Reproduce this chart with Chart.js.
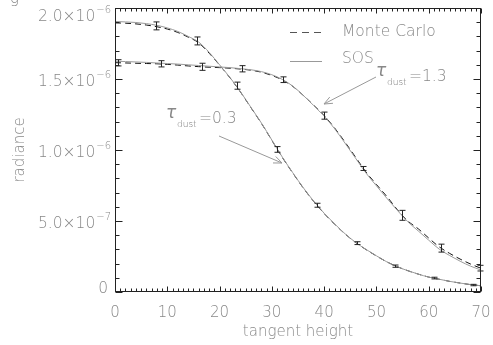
<!DOCTYPE html>
<html>
<head>
<meta charset="utf-8">
<script src="https://cdn.jsdelivr.net/npm/chart.js@4"></script>
<style>
html,body{margin:0;padding:0;background:#fff;}
#wrap{width:493px;height:345px;}
</style>
</head>
<body>
<div id="wrap"><canvas id="c" width="493" height="345"></canvas></div>
<script>
// tangent height grid for the smooth curves
const tangentHeight = [0,2,4,6,8,10,12,14,16,18,20,22,24,26,28,30,32,34,36,38,40,42,44,46,48,50,52,54,56,58,60,62,64,66,68,70];
// radiance in units of 1e-6
const sosThin  = [1.905,1.902,1.898,1.890,1.878,1.860,1.835,1.800,1.760,1.688,1.600,1.510,1.410,1.300,1.190,1.070,0.950,0.840,0.735,0.640,0.555,0.480,0.410,0.350,0.300,0.255,0.212,0.178,0.150,0.126,0.105,0.090,0.075,0.063,0.052,0.044];
const mcThin   = [1.895,1.893,1.888,1.880,1.868,1.852,1.828,1.795,1.755,1.682,1.598,1.508,1.408,1.298,1.188,1.068,0.948,0.838,0.733,0.638,0.553,0.478,0.409,0.349,0.299,0.254,0.212,0.178,0.150,0.126,0.105,0.090,0.075,0.063,0.052,0.044];
const sosThick = [1.625,1.623,1.620,1.617,1.613,1.609,1.605,1.600,1.595,1.590,1.585,1.580,1.573,1.565,1.552,1.530,1.497,1.450,1.385,1.313,1.238,1.150,1.048,0.943,0.838,0.748,0.660,0.575,0.495,0.430,0.365,0.302,0.257,0.217,0.182,0.155];
const mcThick  = [1.615,1.613,1.611,1.609,1.607,1.603,1.598,1.592,1.587,1.583,1.580,1.576,1.570,1.562,1.548,1.525,1.494,1.448,1.385,1.315,1.242,1.155,1.055,0.950,0.845,0.757,0.672,0.580,0.500,0.445,0.380,0.318,0.272,0.232,0.197,0.167];
// Monte Carlo points with error bars
const mcThinErrX  = [7.8,15.7,23.3,31.0,38.6,46.3,53.6,61.0,68.4];
const mcThinErrY  = [1.874,1.768,1.453,1.004,0.611,0.344,0.182,0.098,0.049];
const mcThinErr   = [0.028,0.028,0.025,0.020,0.014,0.010,0.008,0.006,0.005];
const mcThickErrX = [0.6,8.8,16.6,24.3,32.1,40.0,47.4,54.9,62.3,69.8];
const mcThickErrY = [1.614,1.607,1.586,1.572,1.495,1.242,0.870,0.540,0.309,0.168];
const mcThickErr  = [0.022,0.022,0.025,0.022,0.020,0.025,0.014,0.035,0.028,0.020];
// axes
const xTickValues = [0,10,20,30,40,50,60,70];
const xTickLabels = ['0','10','20','30','40','50','60','70'];
const yTickValues = [0,0.5,1.0,1.5,2.0];
const yTickMantissa = ['0','5.0×10','1.0×10','1.5×10','2.0×10'];
const yTickExponent = ['','−7','−6','−6','−6'];
const xTitle = 'tangent height';
const yTitle = 'radiance';
const legendLabels = ['Monte Carlo','SOS'];
const annotLabels = [['τ','dust','=0.3'],['τ','dust','=1.3']];

const pts = (xs, ys) => xs.map((v,i)=>({x:v,y:ys[i]}));
const FONT = '"DejaVu Sans", "Liberation Sans", sans-serif';
const TXT = '#888';
const AX = '#222';

const deco = {
  id:'deco',
  afterDatasetsDraw(chart){
    const {ctx, scales:{x,y}} = chart;
    ctx.save();
    ctx.strokeStyle = '#222'; ctx.lineWidth = 1;
    const bars = [[mcThinErrX,mcThinErrY,mcThinErr],[mcThickErrX,mcThickErrY,mcThickErr]];
    bars.forEach(([xs,ys,es])=>{
      xs.forEach((xv,i)=>{
        const px = Math.round(x.getPixelForValue(xv))+0.5;
        const lo = y.getPixelForValue(ys[i]-es[i]);
        const hi = y.getPixelForValue(ys[i]+es[i]);
        ctx.beginPath();
        ctx.moveTo(px,lo); ctx.lineTo(px,hi);
        ctx.moveTo(px-3,lo); ctx.lineTo(px+3,lo);
        ctx.moveTo(px-3,hi); ctx.lineTo(px+3,hi);
        ctx.stroke();
      });
    });
    ctx.restore();
  },
  afterDraw(chart){
    const {ctx, chartArea:a, scales:{x,y}} = chart;
    ctx.save();
    // frame
    ctx.strokeStyle = AX; ctx.lineWidth = 1;
    const L = Math.round(a.left)+0.5, R = Math.round(a.right)-0.5, T = Math.round(a.top)+0.5, B = Math.round(a.bottom)-0.5;
    ctx.strokeRect(L, T, R-L, B-T);
    ctx.beginPath();
    // x ticks (minor every 1)
    for(let v=0; v<=70; v+=1){
      const px = Math.round(x.getPixelForValue(v))+0.5;
      const len = (v%10===0)?5:3;
      ctx.moveTo(px,B); ctx.lineTo(px,B-len);
      ctx.moveTo(px,T); ctx.lineTo(px,T+len);
    }
    // y ticks (minor every 0.1)
    for(let k=0;k<=20;k++){
      const v = k/10;
      const py = Math.round(y.getPixelForValue(v))+0.5;
      const len = (k%5===0)?7:4;
      ctx.moveTo(L,py); ctx.lineTo(L+len,py);
      ctx.moveTo(R,py); ctx.lineTo(R-len,py);
    }
    ctx.stroke();

    // tick labels
    ctx.fillStyle = TXT;
    ctx.font = '300 15px '+FONT;
    ctx.textAlign='center'; ctx.textBaseline='alphabetic';
    xTickValues.forEach((v,i)=>{
      ctx.fillText(xTickLabels[i], x.getPixelForValue(v), B+25);
    });
    yTickValues.forEach((v,i)=>{
      let py = y.getPixelForValue(v);
      if (py < 14) py = 14; // keep the top label inside the figure
      const exp = yTickExponent[i];
      ctx.font = '300 10px '+FONT;
      const ew = exp ? ctx.measureText(exp).width : 0;
      const right = a.left - 4;
      if(exp){
        ctx.textAlign='right';
        ctx.fillText(exp, right, py-1);
        ctx.font = '300 15.5px '+FONT;
        ctx.fillText(yTickMantissa[i], right-ew-1, py+6.5);
      } else {
        ctx.font = '300 15.5px '+FONT;
        ctx.textAlign='right';
        ctx.fillText(yTickMantissa[i], right-3, py+1);
      }
    });
    // axis titles
    ctx.font = '300 15px '+FONT;
    ctx.textAlign='center';
    ctx.fillText(xTitle, (a.left+a.right)/2, 336);
    ctx.save();
    ctx.translate(24, (a.top+a.bottom)/2);
    ctx.rotate(-Math.PI/2);
    ctx.fillText(yTitle, 0, 0);
    ctx.restore();
    // clipped title glyph at top-left
    ctx.textAlign='left';
    ctx.fillText('g', 10, 3);

    // legend
    ctx.lineWidth = 1;
    ctx.strokeStyle = '#555';
    ctx.setLineDash([7,5]);
    ctx.beginPath(); ctx.moveTo(290,32.5); ctx.lineTo(322,32.5); ctx.stroke();
    ctx.setLineDash([]);
    ctx.strokeStyle = '#999';
    ctx.beginPath(); ctx.moveTo(290,61.5); ctx.lineTo(322,61.5); ctx.stroke();
    ctx.fillStyle = TXT;
    ctx.font = '300 15.5px '+FONT;
    ctx.textAlign='left';
    ctx.fillText(legendLabels[0], 342, 36);
    ctx.fillText(legendLabels[1], 342, 63);

    // annotations
    const drawLabel = (lab, tx, ty)=>{
      ctx.fillStyle = TXT; ctx.textAlign='left';
      ctx.font = 'italic 300 17px '+FONT;
      ctx.fillText(lab[0], tx, ty);
      ctx.fillStyle = '#777';
      ctx.font = '300 9px '+FONT;
      ctx.fillText(lab[1], tx+11, ty+9);
      ctx.fillStyle = TXT;
      ctx.font = '300 15.5px '+FONT;
      ctx.fillText(lab[2], tx+33, ty+5);
    };
    drawLabel(annotLabels[0], 166, 118);
    drawLabel(annotLabels[1], 376, 76);
    const arrow = (x0,y0,x1,y1)=>{
      ctx.strokeStyle = '#999'; ctx.lineWidth = 1;
      ctx.beginPath(); ctx.moveTo(x0,y0); ctx.lineTo(x1,y1);
      const ang = Math.atan2(y1-y0, x1-x0), h = 9, w = 0.4;
      ctx.moveTo(x1 - h*Math.cos(ang-w), y1 - h*Math.sin(ang-w));
      ctx.lineTo(x1,y1);
      ctx.lineTo(x1 - h*Math.cos(ang+w), y1 - h*Math.sin(ang+w));
      ctx.stroke();
    };
    arrow(219,136,282,163);
    arrow(376,77,324,104);
    ctx.restore();
  }
};

new Chart(document.getElementById('c'), {
  type:'line',
  data:{
    datasets:[
      {label:'SOS τ=0.3', data:pts(tangentHeight,sosThin), borderColor:'#9a9a9a', borderWidth:1, pointRadius:0, cubicInterpolationMode:'monotone'},
      {label:'SOS τ=1.3', data:pts(tangentHeight,sosThick), borderColor:'#9a9a9a', borderWidth:1, pointRadius:0, cubicInterpolationMode:'monotone'},
      {label:'MC τ=0.3', data:pts(tangentHeight,mcThin), borderColor:'#111', borderWidth:1, borderDash:[6,4], pointRadius:0, cubicInterpolationMode:'monotone'},
      {label:'MC τ=1.3', data:pts(tangentHeight,mcThick), borderColor:'#111', borderWidth:1, borderDash:[6,4], pointRadius:0, cubicInterpolationMode:'monotone'}
    ]
  },
  options:{
    responsive:false, animation:false, events:[],
    layout:{padding:{left:115, right:12, top:8, bottom:53}},
    plugins:{legend:{display:false}, tooltip:{enabled:false}},
    scales:{
      x:{type:'linear', min:0, max:70, display:false},
      y:{type:'linear', min:0, max:2, display:false}
    }
  },
  plugins:[deco]
});
</script>
</body>
</html>
